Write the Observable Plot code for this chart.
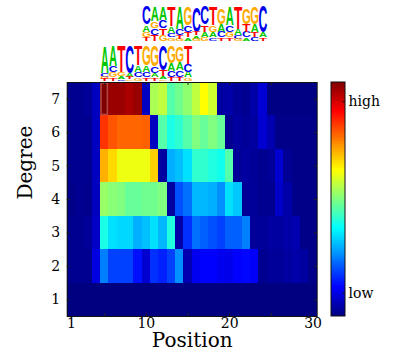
<!DOCTYPE html>
<html><head><meta charset="utf-8">
<script src="https://cdn.jsdelivr.net/npm/d3@7"></script>
<script src="https://cdn.jsdelivr.net/npm/@observablehq/plot@0.6"></script>
<style>body{margin:0;background:#fff}</style>
</head><body><div id="chart"></div>
<script>
// ---------- data ----------
const positions = [1,2,3,4,5,6,7,8,9,10,11,12,13,14,15,16,17,18,19,20,21,22,23,24,25,26,27,28,29,30];
const degrees = [1,2,3,4,5,6,7];
const xTickLabels = [1,10,20,30];
const xMinorTicks = [5,10,15,20,25];

// relative enrichment (0 = low, 1 = high), one array per degree
const degree1 = [0,0,0,0,0,0,0,0,0,0,0,0,0,0,0,0,0,0,0,0,0,0,0,0,0,0,0,0,0,0];
const degree2 = [0.016,0.016,0.016,0.095,0.25,0.188,0.188,0.188,0.141,0.079,0.172,0.156,0.188,0.266,0.047,0.11,0.125,0.125,0.11,0.105,0.125,0.13,0.12,0.016,0.024,0.024,0.032,0.04,0.032,0.008];
const degree3 = [0.016,0.016,0.024,0.07,0.4,0.345,0.337,0.337,0.297,0.313,0.345,0.305,0.406,0.04,0.172,0.235,0.219,0.203,0.188,0.219,0.219,0.25,0.024,0.024,0.032,0.032,0.04,0.047,0.008,0.008];
const degree4 = [0.008,0.016,0.012,0.063,0.525,0.508,0.5,0.475,0.475,0.485,0.485,0.5,0.032,0.203,0.235,0.305,0.305,0.297,0.266,0.345,0.321,0.024,0.024,0.016,0.016,0.07,0.04,0.008,0.008,0.008];
const degree5 = [0.016,0.016,0.016,0.063,0.702,0.663,0.608,0.608,0.608,0.608,0.671,0.032,0.297,0.313,0.345,0.422,0.422,0.406,0.391,0.458,0.024,0.032,0.024,0.016,0.024,0.079,0.02,0.008,0.008,0.008];
const degree6 = [0.016,0.016,0.016,0.063,0.825,0.792,0.775,0.775,0.775,0.781,0.063,0.458,0.4,0.42,0.458,0.5,0.475,0.5,0.475,0.016,0.032,0.024,0.032,0.079,0.047,0.008,0.008,0.008,0.008,0.008];
const degree7 = [0.016,0.016,0.024,0.063,1.0,0.975,0.975,0.958,0.975,0.063,0.543,0.563,0.458,0.485,0.516,0.563,0.625,0.579,0.032,0.04,0.024,0.016,0.04,0.085,0.005,0.005,0.005,0.005,0.005,0.005];
const highlightCell = [{position: 5, degree: 7}];

// colour bar labels
const colorbarLabels = ["high","low"];
const colorbarLevels = [0.9175, 0.10];

// sequence logos: letters listed top to bottom, heights in bits
const topLogo = [
  {pos:10, letters:"CAGT", bits:[1.0,0.39,0.28,0.22]},
  {pos:11, letters:"AGCT", bits:[0.78,0.39,0.39,0.33]},
  {pos:12, letters:"ACTG", bits:[0.72,0.44,0.39,0.33]},
  {pos:13, letters:"TACG", bits:[1.11,0.39,0.22,0.17]},
  {pos:14, letters:"ACTG", bits:[1.22,0.33,0.22,0.11]},
  {pos:15, letters:"GCTA", bits:[1.0,0.39,0.28,0.17]},
  {pos:16, letters:"CTAG", bits:[1.39,0.22,0.17,0.11]},
  {pos:17, letters:"CTAG", bits:[1.0,0.39,0.28,0.22]},
  {pos:18, letters:"TGAC", bits:[1.06,0.39,0.28,0.17]},
  {pos:19, letters:"GACT", bits:[0.89,0.44,0.33,0.17]},
  {pos:20, letters:"ACGT", bits:[1.06,0.39,0.28,0.17]},
  {pos:21, letters:"TACG", bits:[1.22,0.33,0.22,0.11]},
  {pos:22, letters:"GTCA", bits:[0.89,0.44,0.33,0.17]},
  {pos:23, letters:"GATC", bits:[0.94,0.44,0.28,0.22]},
  {pos:24, letters:"CAT",  bits:[1.44,0.28,0.17]}
];
const bottomLogo = [
  {pos:5,  letters:"ACGT", bits:[1.5,0.22,0.11,0.11]},
  {pos:6,  letters:"ACGT", bits:[1.17,0.33,0.28,0.17]},
  {pos:7,  letters:"TGAC", bits:[1.5,0.22,0.17,0.06]},
  {pos:8,  letters:"CATG", bits:[1.56,0.22,0.11,0.06]},
  {pos:9,  letters:"TACG", bits:[1.11,0.39,0.28,0.17]},
  {pos:10, letters:"GACT", bits:[1.11,0.39,0.28,0.17]},
  {pos:11, letters:"GCAT", bits:[1.17,0.39,0.22,0.17]},
  {pos:12, letters:"CTAG", bits:[1.39,0.33,0.17,0.06]},
  {pos:13, letters:"GACT", bits:[0.94,0.44,0.33,0.22]},
  {pos:14, letters:"GACT", bits:[0.89,0.44,0.39,0.22]},
  {pos:15, letters:"TCAG", bits:[1.0,0.44,0.33,0.17]}
];

// ---------- layout ----------
const W = 394, H = 360, mL = 66.7, mR = 77.3, mT = 82, mB = 44;
const colPx = (W - mL - mR) / positions.length;
const rowPx = (H - mT - mB) / degrees.length;
const yTop = degrees.length + 0.5;
const pxToDeg = px => px / rowPx;       // pixel distance -> degree units
const pxToPos = px => px / colPx;       // pixel distance -> position units
const bitPx = 18;
const capRatio = 0.716;                 // cap height of Liberation Sans Bold
const letterColor = {A: "#00c800", C: "#0000f0", G: "#ffaa00", T: "#ff0000"};
const inkW = {A: 0.70, C: 0.64, G: 0.69, T: 0.58};

const heat = [degree1, degree2, degree3, degree4, degree5, degree6, degree7];
const cells = degrees.flatMap((d, i) => positions.map((p, j) => ({position: p, degree: d, value: heat[i][j]})));

function stackLogo(logo, baseDeg) {
  const out = [];
  for (const col of logo) {
    let cum = 0;
    for (let k = col.letters.length - 1; k >= 0; --k) {
      const b = col.bits[k];
      out.push({pos: col.pos, letter: col.letters[k], y: baseDeg + pxToDeg(cum * bitPx), fs: b * bitPx / capRatio});
      cum += b;
    }
  }
  return out;
}
const letters = [
  ...stackLogo(bottomLogo, yTop + pxToDeg(2)),
  ...stackLogo(topLogo, yTop + pxToDeg(42))
];

// colour bar geometry (in the x/y scale units)
const cbX1 = 30.5 + pxToPos(14.3), cbX2 = 30.5 + pxToPos(28.3), cbLabelX = 30.5 + pxToPos(31.3);
const nSteps = 120;
const ramp = d3.range(nSteps).map(i => ({t0: i / nSteps, t1: (i + 1) / nSteps, t: (i + 0.5) / nSteps}));
const valueToDeg = v => 0.5 + v * degrees.length;

const jetDomain = [0, 0.125, 0.375, 0.625, 0.875, 1];
const jetRange = ["#000080", "#0000ff", "#00ffff", "#ffff00", "#ff0000", "#800000"];

const letterMarks = ["A","C","G","T"].map(L => Plot.text(letters.filter(d => d.letter === L), {
  x: "pos", y: "y", text: "letter", fill: letterColor[L], fontSize: d => d.fs,
  fontFamily: "Liberation Sans", fontWeight: "bold", textAnchor: "middle", lineAnchor: "bottom"
}));

const tickLenY = pxToDeg(3), tickLenX = pxToPos(3);

const plot = Plot.plot({
  width: W, height: H,
  marginLeft: mL, marginRight: mR, marginTop: mT, marginBottom: mB,
  style: {fontFamily: "DejaVu Serif", fontSize: "14px", background: "white", color: "black"},
  x: {domain: [0.5, 30.5], ticks: xTickLabels, tickSize: 0, tickPadding: 2, label: null, tickFormat: d => String(d)},
  y: {domain: [0.5, 7.5], ticks: degrees, tickSize: 0, tickPadding: 7, label: null, tickFormat: d => String(d)},
  color: {type: "linear", domain: jetDomain, range: jetRange, interpolate: "rgb"},
  marks: [
    Plot.rect(cells, {x1: d => d.position - 0.5, x2: d => d.position + 0.5, y1: d => d.degree - 0.5, y2: d => d.degree + 0.5, fill: "value", shapeRendering: "crispEdges"}),
    Plot.rect(highlightCell, {x1: d => d.position - 0.5, x2: d => d.position + 0.5, y1: d => d.degree - 0.5, y2: d => d.degree + 0.5, fill: "none", stroke: "#c06060", strokeWidth: 1.5, strokeOpacity: 0.75, inset: 1}),
    Plot.ruleX(xMinorTicks, {x: d => d, y1: 0.5, y2: 0.5 + tickLenY, stroke: "#222"}),
    Plot.ruleX(xMinorTicks, {x: d => d, y1: 7.5 - tickLenY, y2: 7.5, stroke: "#222"}),
    Plot.ruleY(degrees, {y: d => d, x1: 0.5, x2: 0.5 + tickLenX, stroke: "#222"}),
    Plot.ruleY(degrees, {y: d => d, x1: 30.5 - tickLenX, x2: 30.5, stroke: "#222"}),
    Plot.frame({stroke: "#111", strokeWidth: 1}),
    ...letterMarks,
    // colour bar
    Plot.rect(ramp, {x1: cbX1, x2: cbX2, y1: d => valueToDeg(d.t0), y2: d => valueToDeg(d.t1), fill: "t", shapeRendering: "crispEdges"}),
    Plot.rect([0], {x1: cbX1, x2: cbX2, y1: 0.5, y2: 7.5, fill: "none", stroke: "#111", strokeWidth: 1}),
    Plot.ruleY(colorbarLevels, {y: valueToDeg, x1: cbX2 - pxToPos(2.5), x2: cbX2, stroke: "#111"}),
    Plot.text(colorbarLabels, {text: d => d, x: cbLabelX, y: (d, i) => valueToDeg(colorbarLevels[i]), textAnchor: "start", fontSize: 14}),
    // axis titles
    Plot.text(["Position"], {text: d => d, frameAnchor: "bottom", dy: 30, fontSize: 20}),
    Plot.text(["Degree"], {text: d => d, frameAnchor: "left", dx: -42, rotate: -90, fontSize: 20})
  ]
});
document.getElementById("chart").appendChild(plot);

// stretch logo letters horizontally to fill one position column
plot.querySelectorAll("text").forEach(t => {
  const L = t.textContent;
  if (!(L in inkW)) return;
  const fs = parseFloat(t.getAttribute("font-size") || getComputedStyle(t).fontSize);
  if (!fs) return;
  const sx = colPx * 0.94 / (inkW[L] * fs);
  const tr = t.getAttribute("transform");
  if (tr) {
    t.setAttribute("transform", tr + ` scale(${sx},1)`);
  } else {
    const x = +t.getAttribute("x") || 0, y = +t.getAttribute("y") || 0;
    t.removeAttribute("x"); t.removeAttribute("y");
    t.setAttribute("transform", `translate(${x},${y}) scale(${sx},1)`);
  }
});
</script>
</body></html>
